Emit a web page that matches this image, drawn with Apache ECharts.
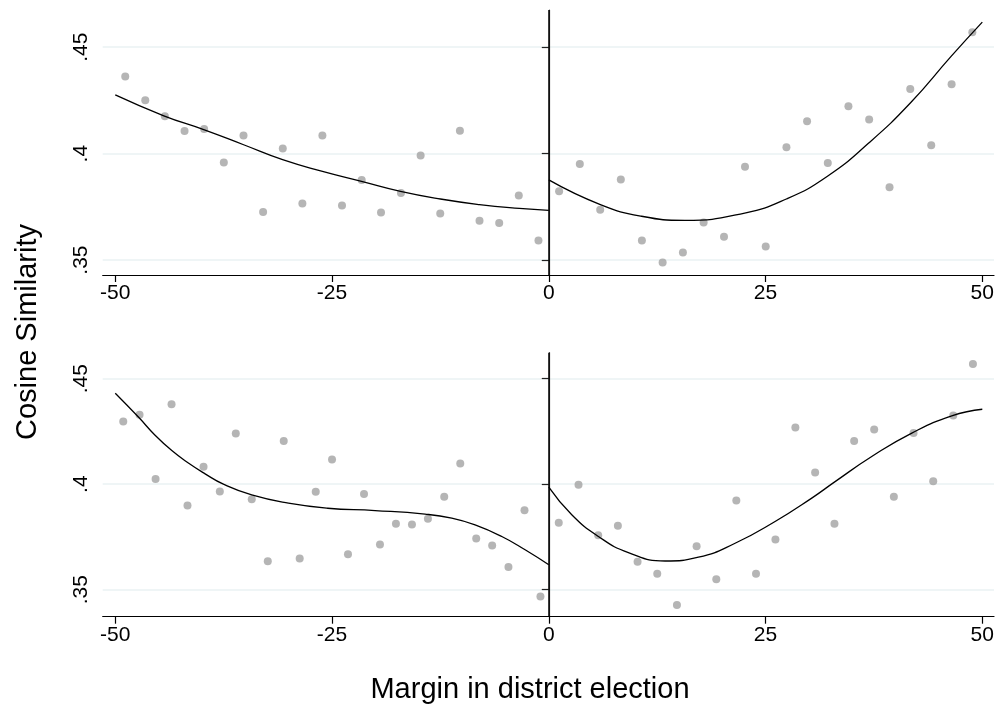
<!DOCTYPE html>
<html><head><meta charset="utf-8">
<script src="https://cdn.jsdelivr.net/npm/echarts@6/dist/echarts.min.js"></script>
<style>html,body{margin:0;padding:0;background:#fff}#c{width:997px;height:708px}</style>
</head><body><div id="c"></div>
<script>
// ---- tick labels ----
const xTicks = [-50, -25, 0, 25, 50];
const yTicks = [0.35, 0.4, 0.45];

// ---- top panel: binned means ----
const topLeftX = [-48.85,-46.54,-44.28,-42.01,-39.75,-37.48,-35.21,-32.95,-30.68,-28.42,-26.11,-23.85,-21.58,-19.35,-17.05,-14.78,-12.52,-10.25,-7.99,-5.72,-3.46,-1.19];
const topLeftY = [0.4362,0.4251,0.4176,0.4107,0.4116,0.3959,0.4085,0.3726,0.4024,0.3766,0.4085,0.3757,0.3876,0.3724,0.3815,0.3992,0.3719,0.4108,0.3685,0.3674,0.3804,0.3592];
const topRightX = [1.19,3.58,5.93,8.31,10.74,13.13,15.47,17.86,20.21,22.63,25.02,27.41,29.79,32.18,34.56,36.95,39.3,41.69,44.11,46.46,48.85];
const topRightY = [0.3823,0.3951,0.3737,0.3879,0.3592,0.3489,0.3536,0.3677,0.3610,0.3939,0.3564,0.4030,0.4152,0.3956,0.4223,0.4160,0.3842,0.4304,0.4039,0.4326,0.4571];
// ---- top panel: fitted curves ----
const topLeftFitX = [-50,-44.4,-39.8,-35.2,-30.7,-26.1,-21.6,-17.1,-12.5,-8,-3.4,0];
const topLeftFitY = [0.4276,0.4178,0.4113,0.4042,0.3972,0.3917,0.3870,0.3823,0.3787,0.3761,0.3743,0.3734];
const topRightFitX = [0,5.95,10.7,15.7,22.6,27.4,32.1,36.9,41.7,46.4,50];
const topRightFitY = [0.3877,0.3761,0.3706,0.3687,0.3721,0.3787,0.3893,0.4050,0.4238,0.4457,0.4618];

// ---- bottom panel: binned means ----
const botLeftX = [-49.08,-47.2,-45.35,-43.51,-41.67,-39.82,-37.94,-36.1,-34.26,-32.41,-30.57,-28.73,-26.88,-25.0,-23.16,-21.31,-19.47,-17.63,-15.78,-13.94,-12.06,-10.21,-8.37,-6.53,-4.65,-2.8,-0.96];
const botLeftY = [0.4297,0.4329,0.4024,0.4379,0.3899,0.4082,0.3965,0.4240,0.3929,0.3635,0.4204,0.3648,0.3964,0.4117,0.3668,0.3954,0.3714,0.3812,0.3809,0.3836,0.3940,0.4098,0.3742,0.3709,0.3608,0.3877,0.3468];
const botRightX = [1.15,3.43,5.70,7.97,10.24,12.51,14.78,17.05,19.32,21.63,23.9,26.14,28.44,30.72,32.95,35.22,37.53,39.8,42.07,44.34,46.65,48.92];
const botRightY = [0.3817,0.3997,0.3758,0.3803,0.3632,0.3575,0.3428,0.3706,0.3550,0.3923,0.3575,0.3738,0.4269,0.4055,0.3812,0.4205,0.4259,0.3940,0.4242,0.4014,0.4325,0.4569];
// ---- bottom panel: fitted curves ----
const botLeftFitX = [-50,-47.33,-45.41,-43.48,-41.57,-39.64,-37.53,-34.26,-30.03,-25.5,-20.03,-14.27,-11.19,-8.5,-5.42,-2.73,0];
const botLeftFitY = [0.4431,0.4318,0.4232,0.4159,0.4100,0.4049,0.4000,0.3949,0.3910,0.3886,0.3875,0.3858,0.3839,0.3807,0.3752,0.3689,0.3618];
const botRightFitX = [0,2.65,5.72,9.18,13.41,17.26,21.49,26.1,30.33,33.02,37.25,41.87,46.48,50];
const botRightFitY = [0.3986,0.3855,0.3752,0.3676,0.3636,0.3654,0.3720,0.3823,0.3934,0.4012,0.4131,0.4242,0.4324,0.4355];

const yTitle = 'Cosine Similarity';
const xTitle = 'Margin in district election';

const FONT = '"Liberation Sans", Arial, sans-serif';
const pairs = (xs, ys) => xs.map((x, i) => [x, ys[i]]);

function xAxis(gi) {
  return {
    gridIndex: gi, type: 'value', min: -51.45, max: 51.35,
    axisLine: { show: true, lineStyle: { color: '#000', width: 1.2 } },
    axisTick: { show: true, customValues: xTicks, length: 7, lineStyle: { color: '#000', width: 1.2 } },
    axisLabel: { show: true, customValues: xTicks, color: '#000', fontSize: 21, fontFamily: FONT, margin: 8 },
    splitLine: { show: false }
  };
}
function yAxis(gi, mn, mx) {
  return {
    gridIndex: gi, type: 'value', min: mn, max: mx,
    axisLine: { show: true, lineStyle: { color: '#444', width: 1.2 } },
    axisTick: { show: true, customValues: yTicks, length: 7, lineStyle: { color: '#222', width: 1.2 } },
    axisLabel: { show: true, customValues: yTicks, rotate: 90, color: '#000', fontSize: 21, fontFamily: FONT, margin: 11,
      formatter: v => String(+v.toFixed(2)).replace(/^0\./, '.') },
    splitLine: { show: true, lineStyle: { color: '#eaf2f3', width: 1.5 } }
  };
}
function scatter(gi, xs, ys) {
  return { type: 'scatter', xAxisIndex: gi, yAxisIndex: gi, data: pairs(xs, ys), symbolSize: 8,
    itemStyle: { color: '#a2a2a2' }, z: 3, silent: true };
}
function fit(gi, xs, ys, withVLine) {
  const s = { type: 'line', xAxisIndex: gi, yAxisIndex: gi, data: pairs(xs, ys), showSymbol: false, smooth: 0.5,
    lineStyle: { color: '#000', width: 1.3 }, z: 4, silent: true };
  if (withVLine) {
    s.markLine = { silent: true, symbol: ['none', 'none'], label: { show: false },
      lineStyle: { color: '#000', width: 1.5, type: 'solid' }, data: [{ xAxis: 0 }] };
  }
  return s;
}

const chart = echarts.init(document.getElementById('c'), null, { renderer: 'canvas' });
chart.setOption({
  animation: false,
  backgroundColor: '#fff',
  textStyle: { fontFamily: FONT },
  grid: [
    { left: 102.7, top: 10, width: 891.3, height: 265, containLabel: false, outerBoundsMode: 'none' },
    { left: 102.7, top: 352.7, width: 891.3, height: 264, containLabel: false, outerBoundsMode: 'none' }
  ],
  xAxis: [xAxis(0), xAxis(1)],
  yAxis: [yAxis(0, 0.343, 0.4675), yAxis(1, 0.3372, 0.4623)],
  series: [
    scatter(0, topLeftX, topLeftY), scatter(0, topRightX, topRightY),
    fit(0, topLeftFitX, topLeftFitY, true), fit(0, topRightFitX, topRightFitY, false),
    scatter(1, botLeftX, botLeftY), scatter(1, botRightX, botRightY),
    fit(1, botLeftFitX, botLeftFitY, true), fit(1, botRightFitX, botRightFitY, false)
  ],
  graphic: [
    { type: 'text', x: 28, y: 332, rotation: Math.PI / 2,
      style: { text: yTitle, fontSize: 29, fontFamily: FONT, fill: '#000', textAlign: 'center', textVerticalAlign: 'middle' } },
    { type: 'text', x: 530, y: 690,
      style: { text: xTitle, fontSize: 29, fontFamily: FONT, fill: '#000', textAlign: 'center', textVerticalAlign: 'middle' } }
  ]
});
</script></body></html>
